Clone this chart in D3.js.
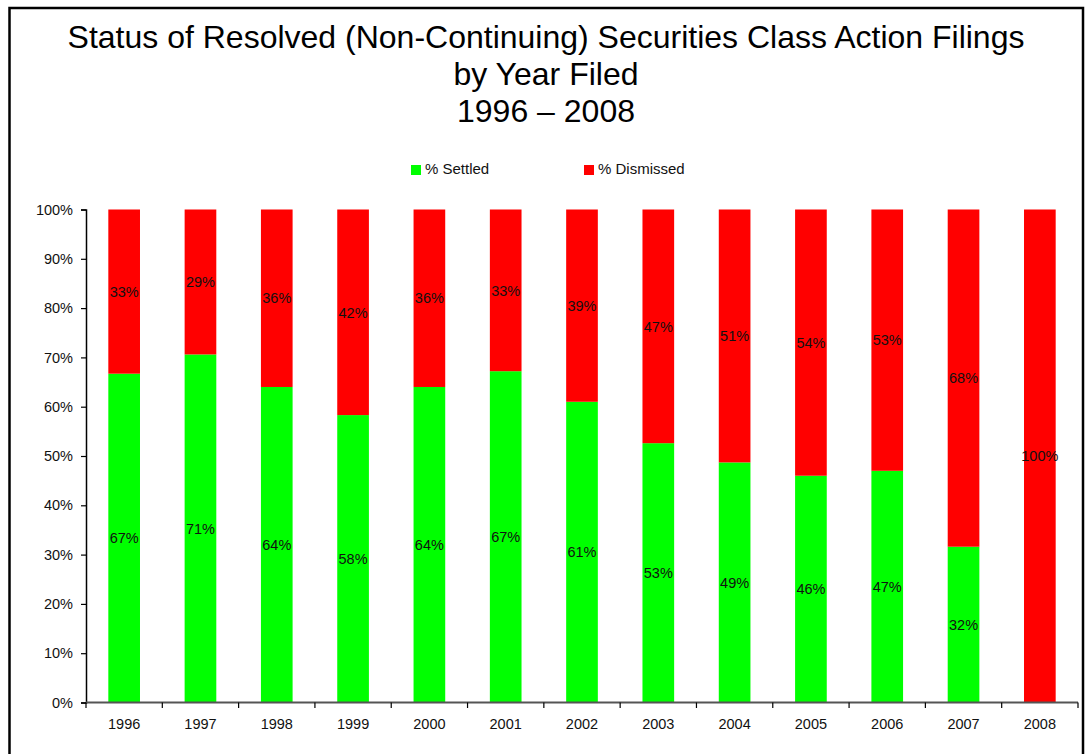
<!DOCTYPE html>
<html>
<head>
<meta charset="utf-8">
<script src="https://cdn.jsdelivr.net/npm/d3@7"></script>
<style>
  body { margin: 0; background: #fff; }
  svg { display: block; font-family: Arial, "Liberation Sans", sans-serif; }
</style>
</head>
<body>
<svg id="chart" width="1091" height="754"></svg>
<script>
const YEARS = ['1996', '1997', '1998', '1999', '2000', '2001', '2002', '2003', '2004', '2005', '2006', '2007', '2008'];
const SETTLED = [66.7, 70.6, 64.0, 58.3, 64.0, 67.2, 61.0, 52.6, 48.7, 46.0, 47.0, 31.6, 0];
const DISMISSED = [33.3, 29.4, 36.0, 41.7, 36.0, 32.8, 39.0, 47.4, 51.3, 54.0, 53.0, 68.4, 100];
const Y_TICKS = [0, 10, 20, 30, 40, 50, 60, 70, 80, 90, 100];
const TITLE_LINES = [
  'Status of Resolved (Non-Continuing) Securities Class Action Filings',
  'by Year Filed',
  '1996 \u2013 2008'
];
const SERIES = [
  { key: 'settled', name: '% Settled', color: '#00ff00' },
  { key: 'dismissed', name: '% Dismissed', color: '#ff0000' }
];

const svg = d3.select('#chart');

// outer frame (bottom edge runs off the picture)
svg.append('rect')
  .attr('x', 9.5).attr('y', 8)
  .attr('width', 1073.5).attr('height', 800)
  .attr('fill', 'none').attr('stroke', '#000').attr('stroke-width', 2.5);

// title
svg.append('g')
  .selectAll('text')
  .data(TITLE_LINES)
  .enter()
  .append('text')
  .attr('x', 546)
  .attr('y', (d, i) => 48 + i * 37)
  .attr('text-anchor', 'middle')
  .attr('font-size', 32)
  .attr('fill', '#000')
  .text(d => d);

// legend
const legendX = [411, 584];
const legend = svg.append('g')
  .selectAll('g')
  .data(SERIES)
  .enter()
  .append('g')
  .attr('transform', (d, i) => `translate(${legendX[i]},165)`);
legend.append('rect').attr('width', 10).attr('height', 10).attr('fill', d => d.color);
legend.append('text')
  .attr('x', 14).attr('y', 9)
  .attr('font-size', 15)
  .attr('fill', '#111')
  .text(d => d.name);

const rows = YEARS.map((year, i) => ({ year, settled: SETTLED[i], dismissed: DISMISSED[i] }));

const x = d3.scaleBand()
  .domain(YEARS)
  .range([86, 1078])
  .paddingInner(0.585)
  .paddingOuter(0.2925);

const y = d3.scaleLinear()
  .domain([0, 100])
  .range([702.5, 209.5]);

const stacked = d3.stack().keys(SERIES.map(s => s.key))(rows);

const layers = svg.append('g')
  .selectAll('g')
  .data(stacked)
  .enter()
  .append('g')
  .attr('fill', (d, i) => SERIES[i].color);

layers.selectAll('rect')
  .data(d => d)
  .enter()
  .append('rect')
  .attr('x', d => x(d.data.year))
  .attr('width', x.bandwidth())
  .attr('y', d => y(d[1]))
  .attr('height', d => y(d[0]) - y(d[1]));

// data labels, centred in each segment
layers.selectAll('text')
  .data(d => d.filter(p => p[1] - p[0] > 0))
  .enter()
  .append('text')
  .attr('x', d => x(d.data.year) + x.bandwidth() / 2)
  .attr('y', d => y((d[0] + d[1]) / 2))
  .attr('dy', '0.36em')
  .attr('text-anchor', 'middle')
  .attr('font-size', 14.5)
  .attr('fill', '#111')
  .text(d => Math.round(d[1] - d[0]) + '%');

// y axis
const yAxis = svg.append('g')
  .attr('transform', 'translate(86,0)')
  .call(d3.axisLeft(y).tickValues(Y_TICKS).tickFormat(d => d + '%').tickSize(5).tickPadding(8));
yAxis.select('.domain').attr('stroke', '#000').attr('stroke-width', 1.5);
yAxis.selectAll('.tick line').attr('stroke', '#000').attr('stroke-width', 1.2);
yAxis.selectAll('text').attr('font-size', 14.5).attr('font-family', 'Arial, "Liberation Sans", sans-serif').attr('fill', '#111');

// x axis: ticks on the category boundaries
const boundaries = d3.range(YEARS.length + 1).map(i => 86 + i * x.step());
const xAxisG = svg.append('g');
xAxisG.append('line')
  .attr('x1', 86).attr('x2', 1078)
  .attr('y1', 702.5).attr('y2', 702.5)
  .attr('stroke', '#555').attr('stroke-width', 1.8);
xAxisG.selectAll('line.tick')
  .data(boundaries)
  .enter()
  .append('line')
  .attr('class', 'tick')
  .attr('x1', d => d).attr('x2', d => d)
  .attr('y1', 702.5).attr('y2', 708)
  .attr('stroke', '#000').attr('stroke-width', 1.2);
xAxisG.selectAll('text')
  .data(YEARS)
  .enter()
  .append('text')
  .attr('x', d => x(d) + x.bandwidth() / 2)
  .attr('y', 729)
  .attr('text-anchor', 'middle')
  .attr('font-size', 14.5)
  .attr('fill', '#111')
  .text(d => d);
</script>
</body>
</html>
